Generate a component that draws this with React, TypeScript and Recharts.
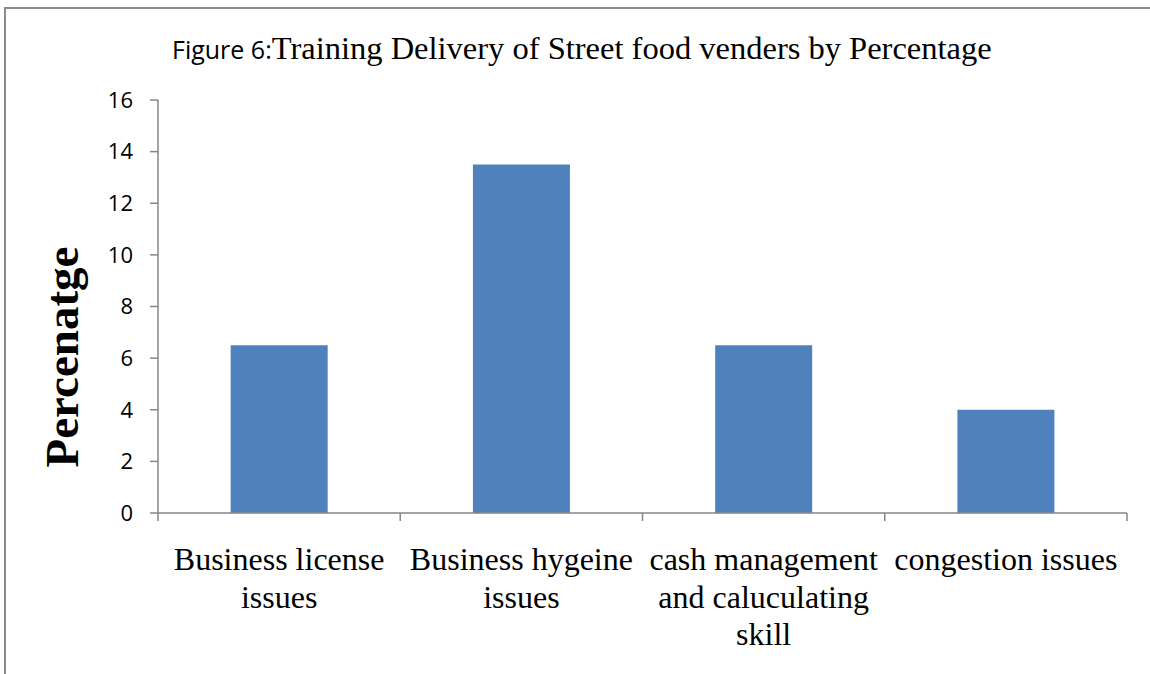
import React from 'react';
import { BarChart, Bar, XAxis, YAxis, Label } from 'recharts';

const categories = [
  'Business license issues',
  'Business hygeine issues',
  'cash management and caluculating skill',
  'congestion issues',
];
const percentages = [6.5, 13.5, 6.5, 4];
const yTicks = [0, 2, 4, 6, 8, 10, 12, 14, 16];

const data = categories.map((name, i) => ({ name, value: percentages[i] }));

const W = 1150;
const H = 674;
const margin = { top: 100, right: 23, bottom: 11, left: 108 };
const Y_AXIS_W = 50;
const X_AXIS_H = 150;
const bandWidth = (W - margin.left - margin.right - Y_AXIS_W) / categories.length;

const axisColor = '#868686';
const serif = "'Times New Roman', 'Liberation Serif', serif";
const sans = "'Open Sans', 'Noto Sans', sans-serif";
const LABEL_SIZE = 32;

// word wrap with canvas measuring, recharts <Text> was not breaking lines here
let ctx: CanvasRenderingContext2D | null = null;
const wrapLabel = (label: string, maxWidth: number) => {
  if (!ctx) ctx = document.createElement('canvas').getContext('2d');
  if (!ctx) return [label];
  ctx.font = `${LABEL_SIZE}px ${serif}`;
  const lines: string[] = [];
  let line = '';
  label.split(' ').forEach((word) => {
    const test = line ? `${line} ${word}` : word;
    if (line && ctx!.measureText(test).width > maxWidth) {
      lines.push(line);
      line = word;
    } else {
      line = test;
    }
  });
  if (line) lines.push(line);
  return lines;
};

// category label plus tick marks on the band edges (excel style)
const CategoryTick = (props: any) => {
  const { x, y, payload, index } = props;
  const left = x - bandWidth / 2;
  const right = x + bandWidth / 2;
  const lines = wrapLabel(String(payload.value), bandWidth - 4);
  return (
    <g>
      <line x1={left} y1={y} x2={left} y2={y + 8} stroke={axisColor} strokeWidth={1.5} />
      {index === categories.length - 1 && (
        <line x1={right} y1={y} x2={right} y2={y + 8} stroke={axisColor} strokeWidth={1.5} />
      )}
      <text x={x} y={y + 57} textAnchor="middle" fontFamily={serif} fontSize={LABEL_SIZE} fill="#000">
        {lines.map((l, i) => (
          <tspan key={i} x={x} dy={i === 0 ? 0 : 37.5}>
            {l}
          </tspan>
        ))}
      </text>
    </g>
  );
};

export default function App() {
  return (
    <div style={{ position: 'absolute', left: 0, top: 0, width: W, height: H, background: '#fff', overflow: 'hidden' }}>
      <div
        style={{
          position: 'absolute',
          left: 4,
          top: 7,
          width: 1300,
          height: 800,
          borderLeft: '2px solid #8c8c8c',
          borderTop: '2px solid #8c8c8c',
        }}
      />
      <div style={{ position: 'absolute', left: 0, top: 0 }}>
        <BarChart width={W} height={H} data={data} margin={margin} barCategoryGap="30%">
          <XAxis
            dataKey="name"
            height={X_AXIS_H}
            interval={0}
            tickSize={0}
            tickMargin={0}
            tickLine={false}
            axisLine={{ stroke: axisColor, strokeWidth: 1.5 }}
            tick={<CategoryTick />}
          />
          <YAxis
            width={Y_AXIS_W}
            domain={[0, 16]}
            ticks={yTicks}
            interval={0}
            tickSize={8}
            tickMargin={17}
            axisLine={{ stroke: axisColor, strokeWidth: 1.5 }}
            tickLine={{ stroke: axisColor, strokeWidth: 1.5 }}
            tick={{ fill: '#000', fontSize: 22, fontFamily: sans }}
          >
            <Label
              content={() => (
                <text
                  x={78}
                  y={357}
                  transform="rotate(-90, 78, 357)"
                  textAnchor="middle"
                  fontFamily={serif}
                  fontWeight="bold"
                  fontSize={47}
                  fill="#000"
                >
                  Percenatge
                </text>
              )}
            />
          </YAxis>
          <Bar dataKey="value" fill="#4F81BD" isAnimationActive={false} />
        </BarChart>
      </div>
      <svg width={W} height={H} style={{ position: 'absolute', left: 0, top: 0, pointerEvents: 'none' }}>
        <text x={172} y={59} fill="#000">
          <tspan fontFamily={sans} fontSize={25}>Figure 6:</tspan>
          <tspan fontFamily={serif} fontSize={32.5}>Training Delivery of Street food venders by Percentage</tspan>
        </text>
      </svg>
    </div>
  );
}
